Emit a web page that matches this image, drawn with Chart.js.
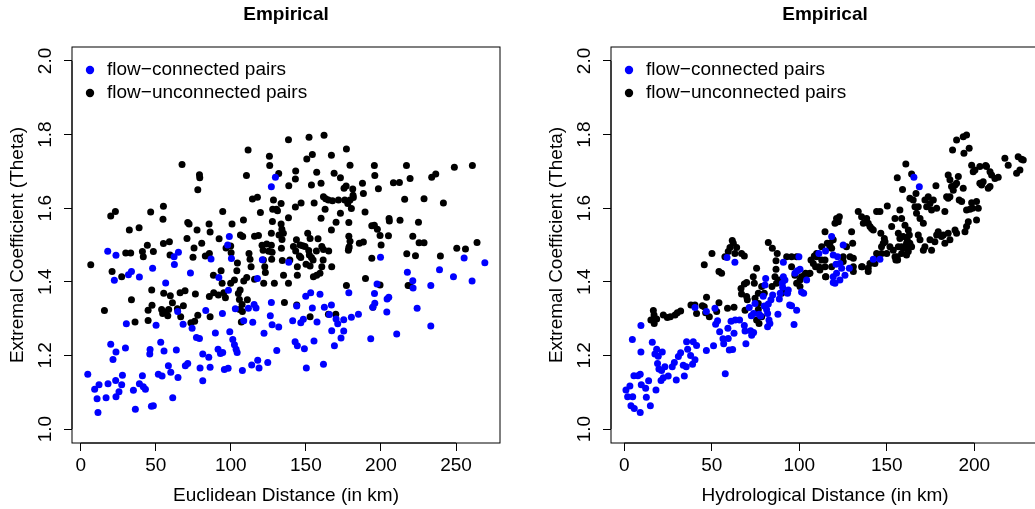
<!DOCTYPE html>
<html>
<head>
<meta charset="utf-8">
<script src="https://cdn.jsdelivr.net/npm/chart.js@4.4.1/dist/chart.umd.min.js"></script>
<style>
  html, body { margin: 0; padding: 0; background: #fff; width: 1035px; height: 509px; overflow: hidden; }
  canvas { position: absolute; top: 0; }
  #euclid { left: 0; }
  #hydro { left: 539px; }
</style>
</head>
<body>
<canvas id="euclid" width="517" height="509"></canvas>
<canvas id="hydro" width="517" height="509"></canvas>
<script>
const FONT = '"Liberation Sans", Arial, Helvetica, sans-serif';

const seriesLabels = ["flow\u2212connected pairs", "flow\u2212unconnected pairs"];
const yTicks = [1.0, 1.2, 1.4, 1.6, 1.8, 2.0];
const euclidTicks = [0, 50, 100, 150, 200, 250];
const hydroTicks = [0, 50, 100, 150, 200];

// [distance km, theta]
const euclidConnected = [
  [4.7,1.149],[9.3,1.108],[12.2,1.120],[10.9,1.082],[11.5,1.045],[16.9,1.085],[18.2,1.123],[18.0,1.483],
  [20.0,1.230],[21.5,1.189],[22.4,1.404],[23.5,1.472],[23.5,1.209],[23.3,1.132],[23.5,1.088],[25.5,1.101],
  [27.3,1.120],[27.8,1.146],[29.8,1.220],[30.4,1.286],[31.8,1.419],[33.8,1.428],[35.1,1.105],[36.4,1.054],
  [39.1,1.413],[39.1,1.123],[41.1,1.145],[41.7,1.115],[43.1,1.108],[46.2,1.216],[46.0,1.204],[47.1,1.062],
  [48.4,1.063],[47.9,1.437],[50.2,1.282],[51.7,1.149],[53.3,1.236],[54.2,1.144],[55.5,1.212],[56.6,1.397],
  [58.4,1.172],[60.0,1.154],[61.3,1.085],[62.4,1.447],[62.2,1.468],[63.7,1.215],[64.8,1.140],[65.1,1.480],
  [64.6,1.319],[68.2,1.285],[69.7,1.172],[71.3,1.178],[73.1,1.424],[74.2,1.274],[77.1,1.249],[79.1,1.246],
  [79.5,1.166],[81.3,1.204],[81.3,1.131],[83.3,1.322],[85.3,1.195],[86.2,1.168],[86.8,1.462],[89.7,1.261],
  [91.5,1.217],[92.0,1.412],[93.1,1.205],[94.4,1.314],[94.6,1.208],[95.7,1.162],[98.2,1.165],[97.9,1.500],
  [99.0,1.523],[98.4,1.377],[99.3,1.264],[100.4,1.463],[101.3,1.243],[102.4,1.229],[103.0,1.327],[103.5,1.217],
  [104.2,1.208],[107.7,1.159],[108.6,1.294],[111.7,1.328],[113.9,1.174],[114.6,1.290],[115.5,1.338],[116.8,1.329],
  [117.9,1.187],[118.8,1.166],[117.7,1.409],[121.0,1.460],[122.1,1.260],[124.6,1.181],[126.3,1.308],[127.0,1.344],
  [127.5,1.283],[127.0,1.658],[129.7,1.684],[130.6,1.213],[131.9,1.277],[138.6,1.453],[141.2,1.294],[142.8,1.237],
  [143.9,1.334],[144.3,1.226],[146.6,1.289],[148.3,1.298],[149.0,1.218],[149.9,1.361],[150.3,1.166],[153.2,1.370],
  [154.3,1.329],[155.4,1.239],[157.4,1.291],[159.4,1.366],[161.7,1.176],[162.3,1.331],[165.7,1.311],[167.0,1.337],
  [167.2,1.267],[169.0,1.226],[170.1,1.299],[171.2,1.286],[173.4,1.247],[175.2,1.266],[175.2,1.297],[178.6,1.370],
  [180.3,1.304],[185.0,1.312],[193.2,1.245],[194.6,1.331],[195.9,1.342],[195.7,1.368],[197.4,1.394],[199.7,1.467],
  [203.9,1.318],[204.1,1.353],[205.2,1.358],[210.5,1.258],[217.6,1.426],[221.2,1.403],[221.4,1.383],[224.1,1.328],
  [233.2,1.390],[233.2,1.280],[239.0,1.433],[248.3,1.414],[255.4,1.465],[260.7,1.402],[269.2,1.452]
];

const euclidUnconnected = [
  [6.7,1.446],[15.8,1.322],[20.0,1.579],[23.1,1.591],[20.9,1.428],[27.3,1.414],[33.8,1.351],[32.4,1.541],
  [38.9,1.547],[30.0,1.478],[33.3,1.478],[36.2,1.291],[41.1,1.482],[41.7,1.468],[44.4,1.499],[48.4,1.482],
  [46.6,1.590],[47.3,1.378],[44.9,1.295],[44.9,1.323],[47.5,1.336],[55.1,1.605],[54.8,1.570],[55.1,1.504],
  [59.1,1.509],[55.3,1.369],[59.5,1.473],[59.7,1.362],[61.1,1.343],[53.9,1.325],[56.6,1.318],[58.6,1.325],
  [54.6,1.314],[58.0,1.308],[66.6,1.305],[64.4,1.327],[68.4,1.335],[66.2,1.370],[69.5,1.376],[67.5,1.719],
  [70.8,1.518],[72.2,1.557],[71.3,1.561],[75.5,1.492],[74.8,1.467],[77.5,1.541],[79.1,1.691],[79.3,1.683],
  [78.0,1.650],[76.4,1.367],[78.0,1.309],[73.4,1.289],[75.9,1.293],[80.6,1.505],[83.0,1.470],[85.5,1.557],
  [86.2,1.535],[85.7,1.477],[85.7,1.360],[86.2,1.305],[88.4,1.418],[88.6,1.370],[91.7,1.364],[92.2,1.517],
  [93.5,1.430],[94.6,1.591],[94.2,1.396],[95.3,1.370],[96.8,1.492],[96.4,1.357],[99.9,1.497],[100.2,1.479],
  [100.8,1.557],[99.9,1.396],[102.4,1.405],[104.0,1.430],[104.4,1.451],[105.0,1.368],[105.7,1.352],[106.2,1.378],
  [106.4,1.527],[107.5,1.338],[107.9,1.523],[108.4,1.568],[105.9,1.325],[107.7,1.319],[107.0,1.291],[108.6,1.402],
  [110.6,1.412],[111.0,1.351],[111.5,1.758],[110.4,1.689],[112.1,1.477],[112.8,1.461],[113.5,1.441],[114.4,1.625],
  [115.8,1.407],[115.8,1.524],[117.7,1.630],[118.4,1.526],[119.7,1.588],[120.8,1.499],[121.5,1.486],[121.7,1.459],
  [121.9,1.396],[122.6,1.441],[123.0,1.425],[123.9,1.503],[125.2,1.483],[125.7,1.741],[125.9,1.716],[127.0,1.532],
  [127.0,1.499],[127.2,1.461],[127.5,1.480],[127.7,1.564],[127.9,1.597],[128.4,1.622],[130.4,1.597],[131.9,1.694],
  [132.1,1.527],[133.5,1.557],[133.7,1.491],[133.5,1.613],[134.0,1.543],[135.1,1.418],[135.7,1.344],[138.4,1.786],
  [138.6,1.661],[138.4,1.574],[138.4,1.396],[139.3,1.459],[152.1,1.793],[162.1,1.798],[177.0,1.761],[150.6,1.734],
  [154.3,1.746],[167.0,1.744],[143.2,1.701],[143.0,1.679],[157.2,1.698],[168.8,1.695],[173.0,1.683],[179.4,1.717],
  [195.6,1.716],[217.0,1.716],[248.9,1.711],[260.9,1.716],[195.9,1.689],[219.4,1.681],[233.8,1.684],[236.5,1.693],
  [208.3,1.669],[212.3,1.670],[153.7,1.663],[160.1,1.668],[175.4,1.654],[176.8,1.660],[181.2,1.652],[188.3,1.640],
  [198.3,1.653],[187.7,1.668],[181.4,1.635],[181.6,1.629],[215.8,1.624],[228.7,1.626],[241.6,1.614],[146.8,1.614],
  [143.0,1.603],[155.5,1.614],[161.7,1.631],[163.2,1.626],[165.0,1.622],[167.7,1.620],[171.7,1.622],[179.4,1.622],
  [177.9,1.613],[162.8,1.597],[189.4,1.590],[180.3,1.599],[160.1,1.573],[173.0,1.586],[170.1,1.562],[178.6,1.561],
  [167.0,1.541],[205.4,1.572],[205.6,1.565],[212.7,1.567],[225.0,1.562],[193.9,1.552],[195.6,1.554],[197.6,1.543],
  [199.4,1.526],[205.0,1.525],[200.1,1.500],[188.3,1.508],[185.6,1.505],[221.2,1.524],[225.4,1.506],[228.7,1.506],
  [250.5,1.491],[256.3,1.489],[264.0,1.507],[239.6,1.470],[217.2,1.476],[223.0,1.471],[178.6,1.524],[178.8,1.495],
  [178.3,1.486],[193.9,1.464],[189.7,1.409],[177.0,1.390],[199.4,1.391],[218.1,1.390],[219.4,1.389],[165.0,1.312],
  [169.9,1.312],[152.8,1.305],[194.6,1.331],[131.1,1.593],[135.0,1.532],[134.1,1.515],[134.3,1.458],[129.0,1.396],
  [144.3,1.441],[144.3,1.418],[143.7,1.514],[141.7,1.496],[143.2,1.484],[146.1,1.500],[147.9,1.498],[149.4,1.496],
  [146.6,1.466],[145.7,1.470],[151.2,1.532],[152.8,1.518],[158.1,1.517],[151.9,1.485],[152.3,1.473],[153.7,1.466],
  [154.8,1.459],[150.1,1.448],[152.8,1.443],[157.0,1.484],[160.6,1.496],[161.7,1.488],[165.2,1.484],[161.5,1.459],
  [160.6,1.441],[159.4,1.423],[155.0,1.414],[157.2,1.418],[167.2,1.441],[178.6,1.491],[179.4,1.510],[175.9,1.622],
  [143.9,1.337]
];

const hydroConnected = [
  [0.95,1.106],[1.9,1.088],[3.8,1.063],[5.7,1.056],[9.1,1.045],[3.2,1.117],[5.5,1.145],[7.8,1.145],
  [9.1,1.149],[9.7,1.120],[12.2,1.111],[12.6,1.086],[13.9,1.131],[14.9,1.063],[4.8,1.088],[9.5,1.281],
  [4.6,1.243],[9.5,1.209],[16.0,1.236],[17.5,1.204],[18.5,1.217],[19.4,1.198],[21.7,1.209],[19.0,1.178],
  [19.8,1.163],[21.3,1.159],[23.2,1.169],[22.3,1.139],[25.1,1.144],[21.0,1.132],[18.1,1.106],[27.4,1.169],
  [28.6,1.181],[29.7,1.133],[30.9,1.197],[32.2,1.207],[33.7,1.173],[34.3,1.144],[35.4,1.169],[35.6,1.237],
  [36.2,1.217],[37.9,1.200],[39.0,1.176],[40.4,1.188],[39.4,1.237],[41.3,1.227],[46.9,1.213],[51.0,1.226],
  [40.4,1.330],[46.9,1.319],[51.8,1.328],[52.2,1.285],[53.3,1.294],[54.5,1.264],[56.4,1.245],[56.8,1.232],
  [59.2,1.274],[59.4,1.246],[60.0,1.215],[61.9,1.216],[61.0,1.293],[63.4,1.296],[62.7,1.260],[65.9,1.296],
  [68.6,1.281],[69.0,1.266],[69.5,1.232],[72.2,1.267],[72.8,1.255],[73.9,1.262],[71.4,1.330],[72.6,1.308],
  [73.9,1.314],[74.7,1.341],[77.1,1.312],[77.9,1.307],[79.4,1.361],[80.4,1.391],[80.8,1.409],[80.0,1.334],
  [81.3,1.325],[81.9,1.314],[82.3,1.340],[82.7,1.296],[83.2,1.287],[81.9,1.278],[84.8,1.364],[83.8,1.351],
  [87.8,1.312],[88.6,1.353],[89.1,1.369],[90.5,1.385],[90.9,1.414],[90.3,1.396],[91.8,1.405],[93.3,1.369],
  [93.7,1.378],[94.5,1.337],[95.6,1.335],[97.0,1.284],[98.5,1.323],[97.5,1.423],[98.9,1.430],[99.8,1.468],
  [100.4,1.434],[101.3,1.372],[102.5,1.369],[104.2,1.405],[111.2,1.477],[115.0,1.484],[118.5,1.523],[119.4,1.473],
  [119.4,1.414],[120.4,1.396],[121.9,1.468],[123.2,1.450],[125.1,1.500],[124.2,1.437],[126.1,1.418],[128.6,1.437],
  [142.3,1.461],[146.1,1.461],[165.5,1.684],[168.6,1.658],[58.7,1.466],[63.2,1.453],[57.7,1.150],[90.9,1.453],
  [121.3,1.423],[123.2,1.405],[119.4,1.398],[121.0,1.448]
];

const hydroUnconnected = [
  [15.2,1.296],[17.0,1.310],[16.6,1.322],[18.5,1.299],[17.1,1.287],[22.3,1.310],[24.6,1.303],[26.3,1.305],
  [29.0,1.310],[30.3,1.316],[32.2,1.321],[38.1,1.337],[40.4,1.337],[41.3,1.314],[44.6,1.335],[45.7,1.332],
  [47.0,1.358],[46.5,1.316],[48.6,1.305],[50.1,1.477],[45.7,1.446],[54.1,1.428],[55.6,1.423],[52.8,1.319],
  [54.1,1.343],[59.0,1.328],[62.7,1.331],[61.7,1.512],[60.4,1.493],[59.4,1.482],[64.2,1.493],[57.5,1.468],
  [63.2,1.477],[62.3,1.505],[67.0,1.477],[68.6,1.470],[66.7,1.382],[68.6,1.394],[69.9,1.398],[67.0,1.367],
  [69.9,1.360],[70.3,1.351],[69.0,1.323],[73.7,1.414],[75.6,1.437],[74.3,1.396],[76.6,1.369],[74.7,1.355],
  [78.5,1.387],[80.0,1.369],[76.6,1.325],[78.5,1.305],[76.6,1.341],[75.6,1.296],[77.0,1.287],[82.3,1.507],
  [84.6,1.491],[87.4,1.477],[86.7,1.457],[86.7,1.434],[86.1,1.414],[87.0,1.396],[88.6,1.405],[84.4,1.387],
  [89.9,1.369],[90.9,1.378],[92.8,1.468],[95.6,1.468],[98.5,1.468],[95.6,1.441],[97.5,1.418],[98.5,1.396],
  [100.4,1.405],[100.4,1.387],[101.3,1.414],[102.9,1.418],[103.6,1.423],[105.1,1.421],[106.7,1.459],[108.6,1.470],
  [109.9,1.477],[109.3,1.441],[111.2,1.441],[112.8,1.459],[114.7,1.441],[115.0,1.414],[114.7,1.536],[117.5,1.505],
  [118.5,1.491],[120.4,1.559],[106.1,1.423],[108.0,1.450],[109.9,1.468],[111.8,1.432],[112.8,1.495],[114.7,1.459],
  [115.2,1.414],[116.0,1.505],[117.5,1.495],[118.5,1.441],[119.4,1.514],[121.3,1.572],[122.9,1.577],[122.3,1.563],
  [125.1,1.468],[125.1,1.455],[127.0,1.495],[129.0,1.468],[129.9,1.536],[130.5,1.505],[130.9,1.464],[130.9,1.441],
  [130.9,1.428],[133.7,1.591],[135.6,1.577],[136.6,1.559],[138.5,1.572],[139.4,1.559],[140.4,1.550],[141.3,1.545],
  [142.3,1.541],[144.2,1.591],[146.1,1.591],[135.6,1.441],[139.4,1.428],[140.4,1.450],[144.2,1.477],[145.1,1.468],
  [147.0,1.477],[147.0,1.495],[148.0,1.505],[149.0,1.509],[150.3,1.606],[151.8,1.495],[152.8,1.550],[153.7,1.486],
  [155.2,1.459],[156.0,1.468],[156.6,1.495],[156.0,1.683],[157.5,1.518],[157.5,1.595],[158.5,1.572],[159.0,1.651],
  [160.4,1.554],[160.9,1.720],[161.3,1.473],[161.3,1.491],[161.7,1.514],[162.9,1.527],[162.3,1.541],[163.2,1.495],
  [164.2,1.693],[163.2,1.627],[165.1,1.622],[166.7,1.640],[166.1,1.604],[167.0,1.586],[168.0,1.604],[169.0,1.572],
  [170.9,1.559],[171.8,1.622],[172.8,1.604],[173.7,1.631],[174.7,1.613],[175.6,1.595],[176.6,1.622],[178.1,1.661],
  [178.5,1.600],[178.5,1.527],[177.5,1.509],[179.4,1.536],[181.3,1.523],[182.3,1.527],[183.2,1.591],[184.2,1.631],
  [185.1,1.627],[186.1,1.631],[185.1,1.690],[186.1,1.677],[187.0,1.659],[188.0,1.649],[189.0,1.663],[189.9,1.668],
  [190.9,1.686],[191.4,1.622],[192.8,1.618],[193.7,1.654],[194.7,1.536],[195.6,1.550],[195.6,1.595],[197.1,1.763],
  [194.1,1.749],[187.6,1.758],[189.9,1.785],[193.7,1.794],[195.6,1.799],[198.5,1.717],[199.4,1.699],[200.4,1.704],
  [201.3,1.568],[198.5,1.615],[199.0,1.600],[203.2,1.713],[204.2,1.663],[205.1,1.672],[207.0,1.713],[209.0,1.699],
  [208.0,1.654],[209.9,1.690],[211.8,1.681],[213.7,1.684],[209.0,1.659],[217.5,1.736],[219.4,1.717],[224.2,1.695],
  [226.1,1.704],[225.1,1.740],[227.0,1.733],[228.0,1.731],[156.6,1.532],[158.5,1.495],[159.4,1.523],[168.0,1.527],
  [169.0,1.514],[170.9,1.486],[171.8,1.495],[174.7,1.514],[175.6,1.486],[183.2,1.505],[186.1,1.514],[189.0,1.541],
  [189.9,1.532],[185.1,1.532],[196.6,1.563],[197.5,1.597],[201.3,1.618],[202.3,1.600],[203.2,1.668],[206.5,1.716],
  [154.7,1.468],[156.2,1.459],[158.5,1.477],[159.4,1.491],[161.3,1.505],[163.2,1.505],[164.2,1.495],[162.3,1.482],
  [146.6,1.532],[148.6,1.518],[150.0,1.477],[139.4,1.437],[143.2,1.450],[136.0,1.441],[154.7,1.572]
];

const toPoints = (pairs) => pairs.map(([x, y]) => ({ x, y }));

// box round the plot region, plus R-style axis lines from first to last tick
const framePlugin = {
  id: "frame",
  afterDraw(chart) {
    const { ctx, chartArea: a, scales } = chart;
    const x = scales.x;
    const y = scales.y;
    ctx.save();
    ctx.strokeStyle = "#000";
    ctx.lineWidth = 1;
    ctx.strokeRect(a.left, a.top, a.right - a.left, a.bottom - a.top);
    ctx.beginPath();
    ctx.moveTo(x.getPixelForValue(x.ticks[0].value), a.bottom);
    ctx.lineTo(x.getPixelForValue(x.ticks[x.ticks.length - 1].value), a.bottom);
    ctx.moveTo(a.left, y.getPixelForValue(y.ticks[0].value));
    ctx.lineTo(a.left, y.getPixelForValue(y.ticks[y.ticks.length - 1].value));
    ctx.stroke();
    ctx.restore();
  },
};

// legend inside the top-left corner, like legend("topleft", bty = "n")
const insetLegend = {
  id: "insetLegend",
  afterDraw(chart) {
    const { ctx, chartArea: a } = chart;
    ctx.save();
    ctx.font = `19px ${FONT}`;
    ctx.textBaseline = "middle";
    ctx.textAlign = "left";
    chart.data.datasets.forEach((ds, i) => {
      const cy = a.top + 23 + i * 23;
      ctx.fillStyle = ds.backgroundColor;
      ctx.beginPath();
      ctx.arc(a.left + 18, cy, 4.2, 0, Math.PI * 2);
      ctx.fill();
      ctx.fillStyle = "#000";
      ctx.fillText(ds.label, a.left + 35, cy);
    });
    ctx.restore();
  },
};

const makeChart = (id, connected, unconnected, xMin, xMax, xTicks, xTitle) => {
  const axisFont = { family: FONT, size: 19, lineHeight: 1.2 };
  const tickGrid = { drawOnChartArea: false, drawTicks: true, tickLength: 8, color: "#000", lineWidth: 1 };

  return new Chart(document.getElementById(id), {
    type: "scatter",
    data: {
      datasets: [
        { label: seriesLabels[0], data: toPoints(connected), backgroundColor: "#0000ff", borderWidth: 0, pointRadius: 3.5, pointHoverRadius: 3.5 },
        { label: seriesLabels[1], data: toPoints(unconnected), backgroundColor: "#000000", borderWidth: 0, pointRadius: 3.5, pointHoverRadius: 3.5 },
      ],
    },
    options: {
      responsive: false,
      animation: false,
      events: [],
      layout: { padding: { left: 0, right: 17, top: 0, bottom: 0 } },
      plugins: {
        legend: { display: false },
        tooltip: { enabled: false },
        title: {
          display: true,
          text: "Empirical",
          fullSize: false,
          color: "#000",
          font: { family: FONT, size: 19, weight: "bold", lineHeight: 1.2 },
          padding: { top: 3.7, bottom: 20.5 },
        },
      },
      scales: {
        x: {
          type: "linear",
          min: xMin,
          max: xMax,
          afterBuildTicks: (s) => { s.ticks = xTicks.map((v) => ({ value: v })); },
          afterFit: (s) => { s.height = 66; },
          grid: tickGrid,
          border: { display: false },
          ticks: { color: "#000", font: axisFont, padding: 3.6, maxRotation: 0, autoSkip: false, callback: (v) => String(v) },
          title: { display: true, text: xTitle, color: "#000", font: axisFont, padding: { top: 0, bottom: 2.2 } },
        },
        y: {
          type: "linear",
          min: 0.962,
          max: 2.038,
          afterBuildTicks: (s) => { s.ticks = yTicks.map((v) => ({ value: v })); },
          afterFit: (s) => { s.width = 72; },
          grid: tickGrid,
          border: { display: false },
          ticks: {
            color: "#000", font: axisFont, padding: 4.8, minRotation: 90, maxRotation: 90,
            crossAlign: "center", autoSkip: false, callback: (v) => Number(v).toFixed(1),
          },
          title: { display: true, text: "Extremal Coefficient (Theta)", color: "#000", font: axisFont, padding: { top: 6, bottom: 0 } },
        },
      },
    },
    plugins: [framePlugin, insetLegend],
  });
};

makeChart("euclid", euclidConnected, euclidUnconnected, -5.8, 279.3, euclidTicks, "Euclidean Distance (in km)");
makeChart("hydro", hydroConnected, hydroUnconnected, -7.6, 237.0, hydroTicks, "Hydrological Distance (in km)");
</script>
</body>
</html>
